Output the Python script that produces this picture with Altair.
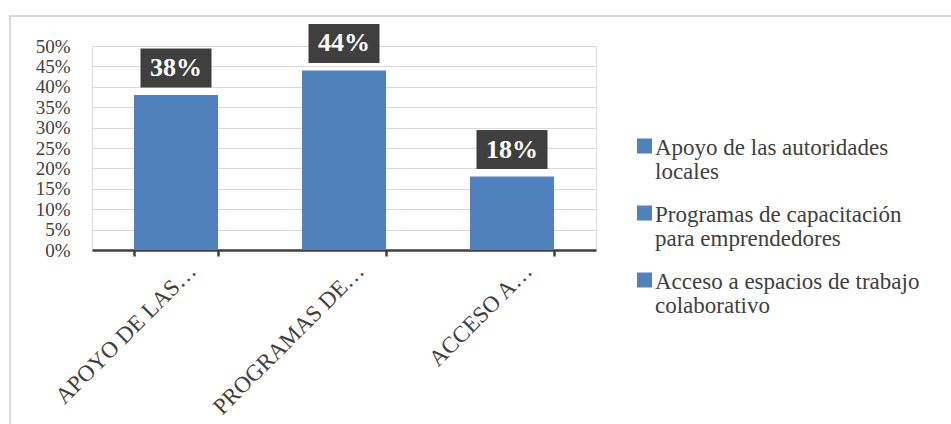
import altair as alt
import pandas as pd

categories = ["APOYO DE LAS…", "PROGRAMAS DE…", "ACCESO A…"]
series_names = [
    "Apoyo de las autoridades|locales",
    "Programas de capacitación|para emprendedores",
    "Acceso a espacios de trabajo|colaborativo",
]
values = [0.38, 0.44, 0.18]
value_labels = ["38%", "44%", "18%"]
y_ticks = [0, 0.05, 0.10, 0.15, 0.20, 0.25, 0.30, 0.35, 0.40, 0.45, 0.50]

df = pd.DataFrame({"cat": categories, "serie": series_names, "value": values, "label": value_labels})

FONT = "Liberation Serif"
BLUE = "#4F81BD"
W, H = 504, 204
PL, PT = 92, 46

x_enc = alt.X(
    "cat:N",
    sort=categories,
    scale=alt.Scale(paddingInner=0.5, paddingOuter=0.25),
    axis=alt.Axis(
        title=None,
        labelAngle=-45,
        labelAlign="right",
        labelBaseline="middle",
        labelFont=FONT,
        labelFontSize=23,
        labelColor="#404040",
        labelOffset=16,
        labelPadding=11,
        labelLimit=400,
        domainColor="#404040",
        domainWidth=2.5,
        tickColor="#404040",
        tickWidth=2.5,
        tickSize=6,
        tickBand="extent",
        grid=False,
    ),
)
y_enc = alt.Y(
    "value:Q",
    scale=alt.Scale(domain=[0, 0.5], nice=False),
    axis=alt.Axis(
        title=None,
        values=y_ticks,
        format=".0%",
        labelFont=FONT,
        labelFontSize=19,
        labelColor="#404040",
        labelPadding=22,
        labelOverlap=False,
        labelFlush=False,
        domain=False,
        ticks=False,
        gridColor="#D9D9D9",
        gridWidth=1.2,
    ),
)

border = alt.Chart(pd.DataFrame({"a": [0]})).mark_rect(
    fill=None, stroke="#D9D9D9", strokeWidth=2
).encode(
    x=alt.value(10 - PL),
    y=alt.value(16 - PT),
    x2=alt.value(960 - PL),
    y2=alt.value(440 - PT),
)

# square glyph drawn above the nominal symbol centre so the label baseline sits below it
legend_symbol = "M0.25,-0.825L1,-0.825L1,-0.075L0.25,-0.075Z"

bars = alt.Chart(df).mark_bar(size=84).encode(
    x=x_enc,
    y=y_enc,
    color=alt.Color(
        "serie:N",
        scale=alt.Scale(domain=series_names, range=[BLUE, BLUE, BLUE]),
        legend=alt.Legend(
            title=None,
            orient="none",
            legendX=612 - PL,
            legendY=135 - PT,
            symbolType=legend_symbol,
            symbolSize=1600,
            symbolStrokeWidth=0,
            labelFont=FONT,
            labelFontSize=23,
            labelColor="#404040",
            labelLimit=500,
            labelExpr="split(datum.label, '|')",
            labelBaseline="alphabetic",
            labelOffset=3,
            rowPadding=18,
        ),
    ),
)

box_path = "M-1,-0.55L1,-0.55L1,0.55L-1,0.55Z"
boxes = alt.Chart(df).mark_point(
    shape=box_path, size=71 * 71, filled=True, fill="#3F3F3F", opacity=1, strokeWidth=0, yOffset=-27
).encode(x=x_enc, y=y_enc)

texts = alt.Chart(df).mark_text(
    font=FONT, fontSize=26, fontWeight="bold", color="white", yOffset=-27, baseline="middle"
).encode(x=x_enc, y=y_enc, text="label:N")

chart = alt.layer(border, bars, boxes, texts).properties(
    width=W,
    height=H,
    padding={"left": PL, "top": PT, "right": 951 - PL - W, "bottom": 424 - PT - H},
    autosize=alt.AutoSizeParams(type="none"),
    background="white",
).configure_view(stroke=None).configure(style={"guide-label": {"lineHeight": 24}})

chart.save("out.html", embed_options={"renderer": "svg", "actions": False})
